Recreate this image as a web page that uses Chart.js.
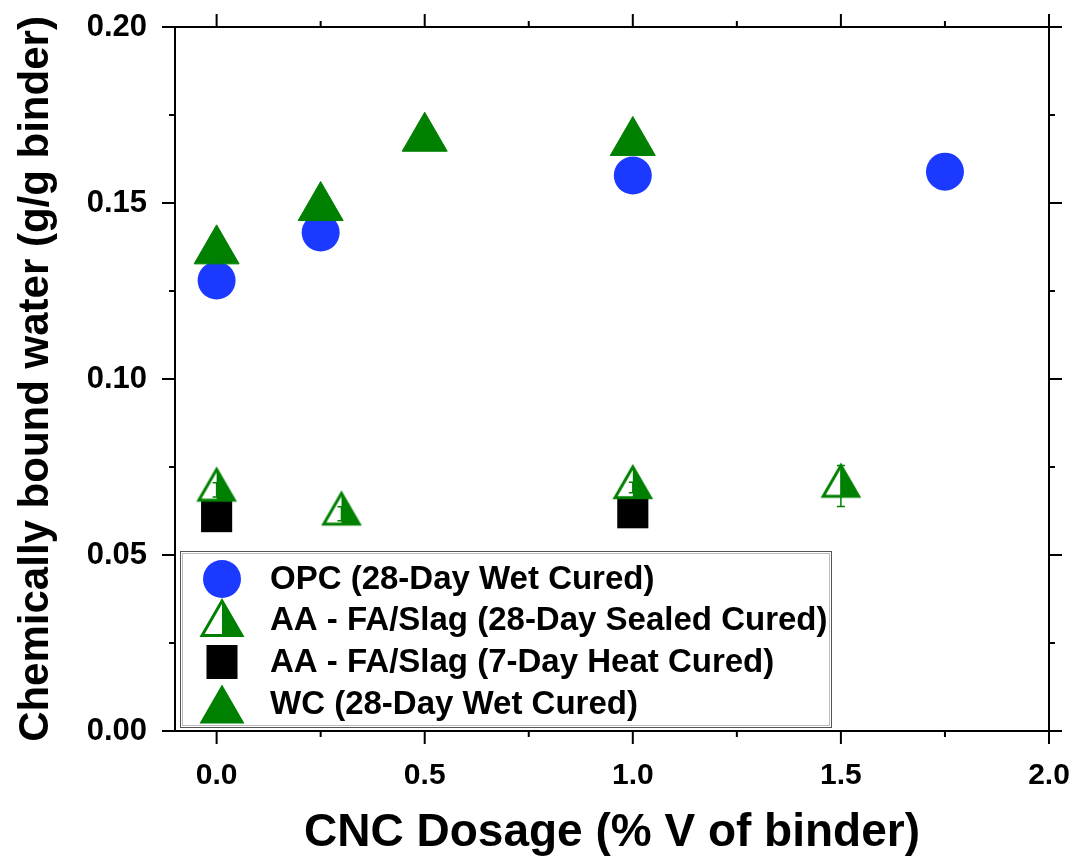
<!DOCTYPE html>
<html>
<head>
<meta charset="utf-8">
<script src="https://cdn.jsdelivr.net/npm/chart.js@4.4.1/dist/chart.umd.min.js"></script>
<style>
  html, body { margin: 0; padding: 0; background: #fff; }
</style>
</head>
<body>
<canvas id="chart" width="1076" height="864"></canvas>
<script>
// data
const dosageOPC = [0, 0.25, 1.0, 1.75];
const waterOPC = [0.128, 0.1416, 0.1578, 0.1589];
const dosageSealed = [0, 0.3, 1.0, 1.5];
const waterSealed = [0.0685, 0.0617, 0.0692, 0.0696];
const errSealed = [0.002, 0.002, 0.0015, 0.0058];
const dosageHeat = [0, 1.0];
const waterHeat = [0.0609, 0.0620];
const dosageWC = [0, 0.25, 0.5, 1.0];
const waterWC = [0.1364, 0.1487, 0.1684, 0.1672];
const seriesNames = [
    "OPC (28-Day Wet Cured)",
    "AA - FA/Slag (28-Day Sealed Cured)",
    "AA - FA/Slag (7-Day Heat Cured)",
    "WC (28-Day Wet Cured)"
];
const xMajor = [0, 0.5, 1.0, 1.5, 2.0];
const xMinor = [0.25, 0.75, 1.25, 1.75];
const yMajor = [0, 0.05, 0.10, 0.15, 0.20];
const yMinor = [0.025, 0.075, 0.125, 0.175];

const blue = "#1c3aff";
const green = "#008000";
const font = "'Liberation Sans', Arial, sans-serif";

function toPoints(xs, ys) {
    return xs.map((x, i) => ({ x: x, y: ys[i] }));
}

// triangle with hollow left half and green right half; centroid sits in the middle of the canvas
function makeHalfTriangle(r, lw, fillLeft) {
    const c = document.createElement("canvas");
    c.width = Math.ceil(r * Math.sqrt(3) + lw * 2 + 2);
    c.height = Math.ceil(2 * r + lw * 2 + 2);
    const ctx = c.getContext("2d");
    const cx = c.width / 2, cy = c.height / 2;
    const half = r * Math.sqrt(3) / 2;
    if (fillLeft) {
        ctx.beginPath();
        ctx.moveTo(cx, cy - r);
        ctx.lineTo(cx - half, cy + r / 2);
        ctx.lineTo(cx, cy + r / 2);
        ctx.closePath();
        ctx.fillStyle = "#fff";
        ctx.fill();
    }
    ctx.beginPath();
    ctx.moveTo(cx, cy - r);
    ctx.lineTo(cx, cy + r / 2);
    ctx.lineTo(cx + half, cy + r / 2);
    ctx.closePath();
    ctx.fillStyle = green;
    ctx.fill();
    ctx.beginPath();
    ctx.moveTo(cx, cy - r);
    ctx.lineTo(cx - half, cy + r / 2);
    ctx.lineTo(cx + half, cy + r / 2);
    ctx.closePath();
    ctx.lineWidth = lw;
    ctx.lineJoin = "miter";
    ctx.strokeStyle = green;
    ctx.stroke();
    return c;
}

const halfTri = makeHalfTriangle(20.5, 3, false);
const halfTriLegend = makeHalfTriangle(23, 3, true);

const framePlugin = {
    id: "frame",
    beforeDatasetsDraw(chart) {
        const { ctx, chartArea: a, scales } = chart;
        ctx.save();
        ctx.strokeStyle = "#000";
        ctx.lineWidth = 2;
        ctx.strokeRect(a.left, a.top, a.right - a.left, a.bottom - a.top);
        ctx.beginPath();
        const tickX = (vals, len) => {
            vals.forEach(v => {
                const px = scales.x.getPixelForValue(v);
                ctx.moveTo(px, a.bottom); ctx.lineTo(px, a.bottom + len);
                ctx.moveTo(px, a.top); ctx.lineTo(px, a.top - len);
            });
        };
        const tickY = (vals, len) => {
            vals.forEach(v => {
                const py = scales.y.getPixelForValue(v);
                ctx.moveTo(a.left, py); ctx.lineTo(a.left - len, py);
                ctx.moveTo(a.right, py); ctx.lineTo(a.right + len, py);
            });
        };
        tickX(xMajor, 13);
        tickX(xMinor, 6);
        tickY(yMajor, 13);
        tickY(yMinor, 6);
        ctx.stroke();

        // error bars sit behind the half-filled symbols
        ctx.strokeStyle = green;
        ctx.lineWidth = 1.5;
        ctx.beginPath();
        dosageSealed.forEach((x, i) => {
            const px = scales.x.getPixelForValue(x);
            const top = scales.y.getPixelForValue(waterSealed[i] + errSealed[i]);
            const bot = scales.y.getPixelForValue(waterSealed[i] - errSealed[i]);
            ctx.moveTo(px, top); ctx.lineTo(px, bot);
            ctx.moveTo(px - 4, top); ctx.lineTo(px + 4, top);
            ctx.moveTo(px - 4, bot); ctx.lineTo(px + 4, bot);
        });
        ctx.stroke();
        ctx.restore();
    }
};

const legendPlugin = {
    id: "boxLegend",
    afterDraw(chart) {
        const ctx = chart.ctx;
        const box = { x: 180, y: 551, w: 652, h: 177 };
        const rows = [579, 620, 662, 704];
        const mx = 222;
        ctx.save();
        ctx.fillStyle = "#fff";
        ctx.fillRect(box.x, box.y, box.w, box.h);
        ctx.strokeStyle = "#555";
        ctx.lineWidth = 1;
        ctx.strokeRect(box.x + 0.5, box.y + 0.5, box.w - 1, box.h - 1);
        ctx.strokeStyle = "#bbb";
        ctx.strokeRect(box.x + 2.5, box.y + 2.5, box.w - 5, box.h - 5);

        // markers
        ctx.fillStyle = blue;
        ctx.beginPath();
        ctx.arc(mx, rows[0], 19, 0, Math.PI * 2);
        ctx.fill();
        ctx.drawImage(halfTriLegend, mx - halfTriLegend.width / 2, rows[1] + 4 - halfTriLegend.height / 2);
        ctx.fillStyle = "#000";
        ctx.fillRect(mx - 15.5, rows[2] - 17, 31, 34);
        const r = 26, h = r * Math.sqrt(3) / 2;
        ctx.fillStyle = green;
        ctx.beginPath();
        ctx.moveTo(mx, rows[3] - 0.75 * r);
        ctx.lineTo(mx - h, rows[3] + 0.75 * r);
        ctx.lineTo(mx + h, rows[3] + 0.75 * r);
        ctx.closePath();
        ctx.fill();

        ctx.fillStyle = "#000";
        ctx.font = "bold 33px " + font;
        ctx.textBaseline = "middle";
        ctx.textAlign = "left";
        seriesNames.forEach((name, i) => ctx.fillText(name, 270, rows[i] + 1));
        ctx.restore();
    }
};

new Chart(document.getElementById("chart"), {
    type: "scatter",
    data: {
        datasets: [
            {
                label: seriesNames[3],
                data: toPoints(dosageWC, waterWC),
                pointStyle: "triangle",
                pointRadius: 26,
                backgroundColor: green,
                borderColor: green,
                borderWidth: 1,
                order: 0
            },
            {
                label: seriesNames[1],
                data: toPoints(dosageSealed, waterSealed),
                pointStyle: halfTri,
                pointRadius: 20,
                order: 1
            },
            {
                label: seriesNames[2],
                data: toPoints(dosageHeat, waterHeat),
                pointStyle: "rect",
                pointRadius: 22,
                backgroundColor: "#000",
                borderColor: "#000",
                borderWidth: 0,
                order: 2
            },
            {
                label: seriesNames[0],
                data: toPoints(dosageOPC, waterOPC),
                pointStyle: "circle",
                pointRadius: 19,
                backgroundColor: blue,
                borderColor: blue,
                borderWidth: 0,
                order: 3
            }
        ]
    },
    options: {
        responsive: false,
        animation: false,
        layout: { padding: { top: 27, right: 26, left: 0, bottom: 0 } },
        plugins: {
            legend: { display: false },
            tooltip: { enabled: false }
        },
        scales: {
            x: {
                type: "linear",
                min: -0.1,
                max: 2.0,
                grid: { display: false, drawTicks: false },
                border: { display: false },
                afterBuildTicks: s => { s.ticks = xMajor.map(v => ({ value: v })); },
                afterFit: s => {
                    s.height = 133;
                    s.paddingLeft = 0;
                    s.paddingRight = 0;
                },
                ticks: {
                    autoSkip: false,
                    maxRotation: 0,
                    padding: 27,
                    color: "#000",
                    font: { family: font, size: 30, weight: "bold" },
                    callback: v => v.toFixed(1)
                },
                title: {
                    display: true,
                    text: "CNC Dosage (% V of binder)",
                    color: "#000",
                    font: { family: font, size: 46, weight: "bold" },
                    padding: { top: 0, bottom: 3 }
                }
            },
            y: {
                min: 0,
                max: 0.2,
                grid: { display: false, drawTicks: false },
                border: { display: false },
                afterBuildTicks: s => { s.ticks = yMajor.map(v => ({ value: v })); },
                afterFit: s => {
                    s.width = 175;
                    s.paddingTop = 0;
                    s.paddingBottom = 0;
                },
                ticks: {
                    autoSkip: false,
                    padding: 28,
                    color: "#000",
                    font: { family: font, size: 31, weight: "bold" },
                    callback: v => v.toFixed(2)
                },
                title: {
                    display: true,
                    text: "Chemically bound water (g/g binder)",
                    color: "#000",
                    font: { family: font, size: 42, weight: "bold" },
                    padding: { top: 11, bottom: 0 }
                }
            }
        }
    },
    plugins: [framePlugin, legendPlugin]
});
</script>
</body>
</html>
